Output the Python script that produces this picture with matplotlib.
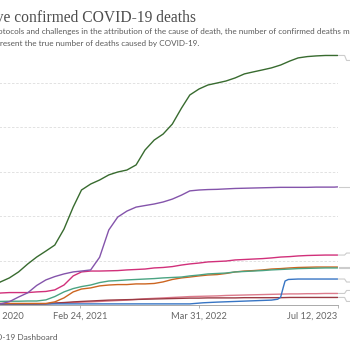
import matplotlib
matplotlib.use("Agg")
import matplotlib.pyplot as plt
import pandas as pd
from matplotlib.lines import Line2D
from matplotlib.transforms import ScaledTranslation

# cumulative confirmed deaths, thousands, read at the 1st of each month
months = list(pd.date_range("2020-05-01", "2023-07-01", freq="MS")) + [pd.Timestamp("2023-07-12")]

us = [81, 104, 122, 149, 185, 216, 243, 270,
      342, 441, 518, 545, 563, 586, 599, 608, 631, 698, 743, 770,
      815, 887, 946, 973, 991, 1000, 1009, 1023, 1041, 1050, 1059, 1068,
      1081, 1099, 1113, 1119, 1122, 1124, 1124, 1124]
india = [1, 5, 15, 36, 55, 88, 113, 128,
         140, 149, 153, 158, 215, 338, 396, 423, 441, 448, 455, 464,
         477, 495, 514, 518, 520, 521, 523, 525, 526, 527, 528, 529,
         530, 530, 530, 530, 531, 531, 531, 532]
pink = [45, 54, 56, 56, 56, 59, 61, 68,
        90, 131, 149, 153, 153, 154, 155, 158, 160, 162, 167, 169,
        173, 180, 185, 189, 194, 196, 198, 203, 205, 207, 209, 212,
        216, 218, 221, 223, 224, 225, 225, 225]
teal = [16, 16, 17, 17, 18, 18, 23, 38,
        59, 74, 83, 90, 101, 108, 110, 113, 115, 117, 119, 122,
        124, 126, 131, 135, 140, 142, 144, 149, 151, 153, 155, 158,
        160, 162, 164, 165, 166, 167, 167, 167]
orange = [7, 7, 7, 7, 7, 7, 7, 14,
          32, 59, 72, 77, 86, 90, 92, 92, 95, 95, 97, 104,
          115, 122, 126, 131, 135, 137, 142, 149, 153, 155, 158, 162,
          164, 167, 169, 170, 171, 171, 171, 171]
darkred = [4, 4, 4, 4, 4, 4, 5, 9,
           11, 14, 16, 18, 20, 22, 23, 24, 25, 26, 27, 28,
           29, 30, 31, 31, 32, 32, 32, 32, 33, 33, 33, 33,
           33, 34, 34, 34, 34, 34, 34, 34]
lightred = [2, 2, 3, 3, 3, 4, 5, 7,
            9, 11, 13, 14, 16, 18, 20, 22, 25, 28, 30, 32,
            34, 36, 38, 39, 40, 41, 43, 44, 45, 46, 47, 48,
            49, 50, 50, 51, 51, 52, 52, 52]

china_dates = pd.to_datetime(["2020-05-01", "2022-03-01", "2022-04-15", "2022-06-01", "2022-12-01",
                              "2022-12-22", "2023-01-01", "2023-01-10", "2023-01-16", "2023-01-27",
                              "2023-03-01", "2023-07-12"])
china = [5, 5, 10, 13, 22, 26, 35, 80, 108, 115, 117, 117]

# (dates, values, colour, connector shift in px)
series = [
    (months, lightred, "#dc7b8c", 3),
    (months, darkred, "#9b3a44", -4),
    (china_dates, china, "#3775c4", -3),
    (months, orange, "#cc6520", 0),
    (months, teal, "#4aa382", 0),
    (months, pink, "#d1307a", 2),
    (months, india, "#8454ab", 0),
    (months, us, "#386b2f", -5),
]

W = H = 350
fig = plt.figure(figsize=(3.5, 3.5), dpi=100)
x_start = pd.Timestamp("2020-01-22")
x_end = pd.Timestamp("2023-07-12")
ax = fig.add_axes([-38.4 / W, 45 / H, (337.6 + 38.4) / W, 266.4 / H])

for d, v, c, _ in series:
    ax.plot(d, v, color=c, lw=1.0, solid_capstyle="round", solid_joinstyle="round", zorder=3)

ax.set_xlim(x_start, x_end)
ax.set_ylim(0, 1200)
ax.set_yticks([200, 400, 600, 800, 1000])
ax.yaxis.grid(True, color="#dddddd", lw=0.6, ls=(0, (3, 2)))
ax.tick_params(axis="y", left=False, labelleft=False)
for s in ["top", "right", "left"]:
    ax.spines[s].set_visible(False)
ax.spines["bottom"].set_color("#aaaaaa")
ax.spines["bottom"].set_linewidth(0.7)

tick_dates = pd.to_datetime(["2020-01-22", "2021-02-24", "2022-03-31", "2023-07-12"])
tick_labels = ["Jan 22, 2020", "Feb 24, 2021", "Mar 31, 2022", "Jul 12, 2023"]
ax.set_xticks(tick_dates)
ax.set_xticklabels(tick_labels, fontfamily="Lato", fontsize=6.7, color="#666666")
ax.tick_params(axis="x", length=2.5, width=0.6, color="#aaaaaa", pad=2.2)
labels = ax.get_xticklabels()
labels[0].set_ha("left")
labels[0].set_transform(labels[0].get_transform() + ScaledTranslation(0.09, 0, fig.dpi_scale_trans))
labels[-1].set_ha("right")

# connector stubs toward the (cropped) line labels
inv = fig.transFigure.inverted()
for d, v, c, dy in series:
    xe, ye = ax.transData.transform((matplotlib.dates.date2num(d[-1]), v[-1]))
    pts = [(xe + 1, ye), (xe + 7, ye), (xe + 9, ye + dy), (xe + 20, ye + dy)]
    fp = inv.transform(pts)
    fig.add_artist(Line2D(fp[:, 0], fp[:, 1], transform=fig.transFigure,
                          color="#cccccc", lw=0.8))

fig.text(196 / W, 1 - 21.5 / H, "Cumulative confirmed COVID-19 deaths", ha="right", va="baseline",
         fontfamily="Liberation Serif", fontsize=11.2, color="#4d4d4d")
fig.text(372 / W, 1 - 34 / H,
         "Due to varying protocols and challenges in the attribution of the cause of death, the number of confirmed deaths may not",
         ha="right", va="baseline", fontfamily="Lato", fontsize=5.9, color="#5b5b5b")
fig.text(199 / W, 1 - 46 / H, "accurately represent the true number of deaths caused by COVID-19.",
         ha="right", va="baseline", fontfamily="Lato", fontsize=5.9, color="#5b5b5b")
fig.text(58 / W, 1 - 339.5 / H, "Data source: WHO COVID-19 Dashboard", ha="right", va="baseline",
         fontfamily="Lato", fontsize=6.0, color="#5b5b5b")

fig.savefig("out.png", dpi=100)
